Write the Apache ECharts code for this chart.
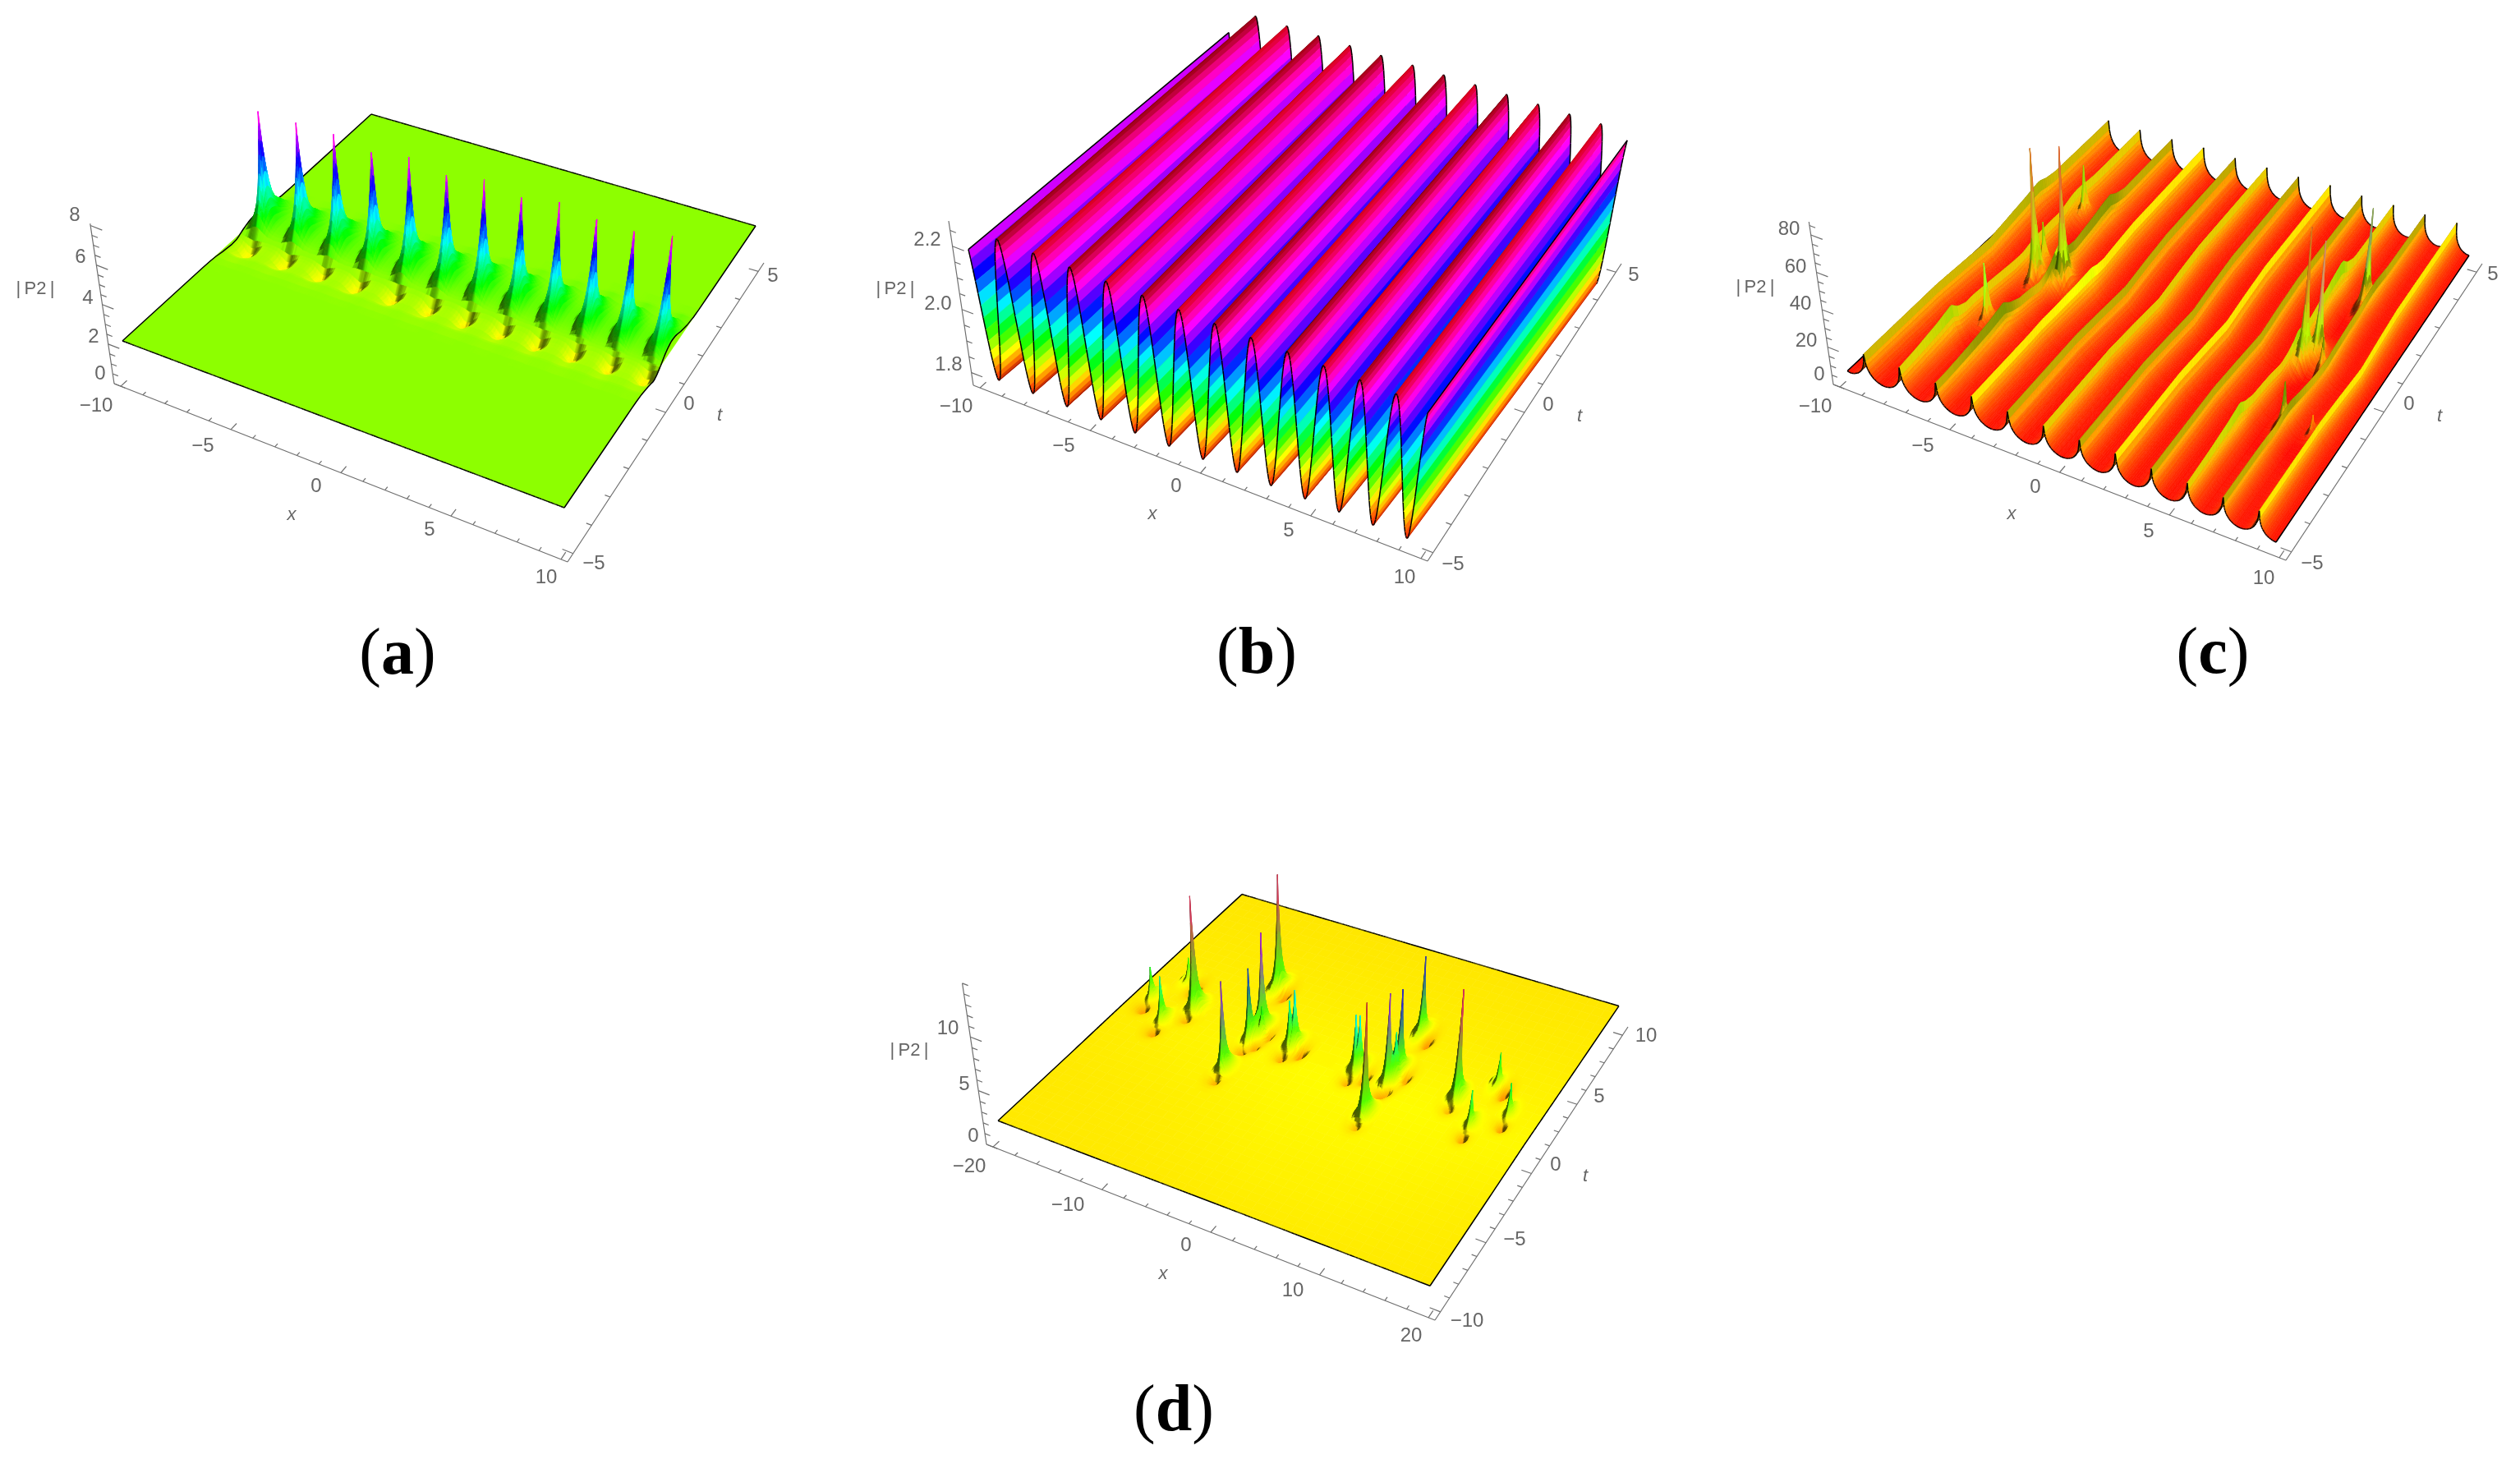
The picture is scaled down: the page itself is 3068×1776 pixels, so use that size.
<!DOCTYPE html>
<html>
<head>
<meta charset="utf-8">
<title>|P2| surfaces</title>
<script src="https://cdn.jsdelivr.net/npm/echarts@6/dist/echarts.min.js"></script>
<style>
  html, body { margin: 0; padding: 0; background: #fff; }
  #chart { width: 3068px; height: 1776px; }
</style>
</head>
<body>
<div id="chart"></div>
<script>
// --- values ---
// panel (a): twelve peaks in a row on a flat plateau
const aPlateau = 2;
const aPeakX = [-9.35, -7.63, -5.91, -4.2, -2.48, -0.76, 0.96, 2.67, 4.39, 6.11, 7.83, 9.55];
const aPeakT = [0.25, 0.28, 0.3, 0.33, 0.35, 0.38, 0.4, 0.43, 0.45, 0.48, 0.5, 0.53];
const aPeakZ = [7.55, 7.57, 7.59, 7.61, 7.63, 7.65, 7.67, 7.69, 7.71, 7.73, 7.75, 7.75];

// panel (b): crests and valleys of the ridges, along x
const bNodeX = [-10.2, -9.42, -8.63, -7.85, -7.06, -6.28, -5.49, -4.71, -3.92, -3.14, -2.35, -1.57, -0.78, 0, 0.78, 1.57, 2.35, 3.14, 3.92, 4.71, 5.49, 6.28, 7.06, 7.85, 8.63, 9.42, 10.1];
const bNodeZ = [2.24, 1.77, 2.24, 1.77, 2.24, 1.77, 2.24, 1.77, 2.24, 1.77, 2.24, 1.77, 2.24, 1.77, 2.24, 1.77, 2.24, 1.77, 2.24, 1.77, 2.24, 1.77, 2.24, 1.77, 2.24, 1.77, 2.24];
const bCrestTone = [0.8, 0.6, 0.85, 0.65, 0.85, 0.65, 0.85, 0.65, 0.85, 0.65, 0.85, 0.65, 0.85, 1];

// panel (c): ridges, then the spikes and humps on them
const cValley = 1;
const cCrestX = [-10.6, -9.1, -7.45, -5.78, -4.12, -2.46, -0.8, 0.86, 2.52, 4.18, 5.84, 7.5, 9.16];
const cCrestZ = [14.5, 14.5, 14.5, 14.5, 15, 14.5, 14.5, 14.5, 15, 14.5, 14.5, 14.5, 15];
const cCrestTone = [0.7, 0.7, 0.85, 0.6, 1, 0.6, 0.85, 0.6, 1, 0.6, 0.85, 0.6, 1];
const cBendT = [-5, -2, -1, 0, 1, 2, 5];
const cBendS = [0, 0, 0.1, 0.22, 0.1, 0, 0];
const cProfileW = [0, 0.03, 0.07, 0.12, 0.2, 0.3, 0.42, 0.55, 0.7, 0.85, 1];
const cProfileF = [1, 0.76, 0.6, 0.47, 0.34, 0.24, 0.15, 0.09, 0.04, 0.01, 0];
const cPeakX = [-6.85, -6.95, -6.75, -5.55, -7.1, 6.15, 6.55, 7.05, 7.2, 8.5, 7.05];
const cPeakT = [-1.9, 0.45, -0.1, 0.04, 2.4, 0.17, 0.54, 2.54, -1.7, -1.6, 0.2];
const cPeakZ = [42, 32, 80, 80, 36, 82, 72, 60, 32, 20, 28];
const cHumpX = [-7.45, -5.78, 5.84, 5.84, -9.1, -5.78, -4.12];
const cHumpT = [-2.8, -2.1, -2.44, 2.5, 2.2, 2.4, 0];
const cHumpH = [6, 5, 5, 7, 2.5, 4, 3];
const cRampT = [-2.5, -1.5, -0.6, 0, 0.25, 0.6];
const cRampF = [0, 0.25, 0.6, 1, 0.4, 0];

// panel (d): scattered peaks over a nearly flat sheet
const dBaseX = [-20, -10, 0, 10, 20];
const dBaseT = [-10, -5, 0, 5, 10];
const dBaseZ = [
  [1.98, 1.98, 2.0, 2.0, 1.98],
  [1.98, 2.02, 2.08, 2.08, 2.02],
  [2.02, 2.1, 2.15, 2.15, 2.12],
  [2.0, 2.02, 2.03, 2.03, 2.02],
  [1.96, 1.96, 1.96, 1.96, 1.96]
];
const dPeakX = [-18.3, -15.8, -16.8, -14.3, -7.8, -7.9, -7.3, -7.8, -9.5, -4.4, -4.1, 2.2, 2.5, 5.7, 5.5, 5.9, 5.7, 5.1, 11.9, 14.6, 14.5, 17.1];
const dPeakT = [1.25, 0, 3.1, 1.5, -1.7, 0.66, 1.24, 1.7, 4.6, 1.1, 1.3, 1, 1.1, -1.5, 0.9, 1.25, 1.9, 4.6, 1.4, 0, 3, 1.4];
const dPeakZ = [4.8, 6, 4.2, 12, 10, 8.5, 4.5, 10.3, 12, 5.5, 6.5, 6.3, 6.3, 12.4, 10, 5.5, 9, 9, 12, 5.3, 5, 5];
const dPeakKind = [0, 0, 1, 0, 0, 0, 0, 1, 1, 0, 1, 0, 1, 0, 0, 0, 1, 1, 0, 0, 1, 0];

// shape of one peak: height fraction against distance from its centre
const spikeR = [0, 0.02, 0.04, 0.08, 0.12, 0.17, 0.25, 0.35, 0.5, 0.7, 1, 1.4, 2];
const spikeF = [1, 0.92, 0.83, 0.7, 0.6, 0.5, 0.37, 0.26, 0.17, 0.1, 0.05, 0.018, 0];
const dipR = [0, 0.2, 0.4, 0.6, 0.85, 1.2, 1.7];
const dipF = [1, 0.85, 0.55, 0.3, 0.14, 0.04, 0];

// axes
const xTicks10 = [-10, -5, 0, 5, 10];
const tTicks5 = [-5, 0, 5];
const xTicks20 = [-20, -10, 0, 10, 20];
const tTicks10 = [-10, -5, 0, 5, 10];
const aZTicks = [0, 2, 4, 6, 8];
const bZTicks = [1.8, 2.0, 2.2];
const cZTicks = [0, 20, 40, 60, 80];
const dZTicks = [0, 5, 10];

// --- helpers ---
function interp(xa, ya, v) {
  if (v <= xa[0]) return ya[0];
  for (let i = 1; i < xa.length; i++) {
    if (v <= xa[i]) return ya[i - 1] + (ya[i] - ya[i - 1]) * (v - xa[i - 1]) / (xa[i] - xa[i - 1]);
  }
  return ya[ya.length - 1];
}

function hueRgb(h) {
  h = ((h % 360) + 360) % 360 / 60;
  const i = Math.floor(h), f = h - i;
  const q = 1 - f;
  return [[1, f, 0], [q, 1, 0], [0, 1, f], [0, q, 1], [f, 0, 1], [1, 0, q]][i];
}

function cssRgb(c, v) {
  return 'rgb(' + Math.round(c[0] * v * 255) + ',' + Math.round(c[1] * v * 255) + ',' + Math.round(c[2] * v * 255) + ')';
}

function project(p, x, t, z) {
  const u = (x - p.x0) / (p.x1 - p.x0), v = (t - p.t0) / (p.t1 - p.t0);
  const c = p.corners;
  const bx = c[0][0] * (1 - u) * (1 - v) + c[1][0] * u * (1 - v) + c[2][0] * u * v + c[3][0] * (1 - u) * v;
  const by = c[0][1] * (1 - u) * (1 - v) + c[1][1] * u * (1 - v) + c[2][1] * u * v + c[3][1] * (1 - u) * v;
  const s = 1 + p.k * (z - p.z0) / (p.z1 - p.z0);
  return [p.vp[0] + (bx - p.vp[0]) * s, p.vp[1] + (by - p.vp[1]) * s];
}

const nodeOffs = [0, 0.015, 0.04, 0.07, 0.11, 0.16, 0.22, 0.3, 0.4, 0.52, 0.68, 0.88, 1.15, 1.5, 2];

function makeNodes(centers, lo, hi, gap, extra) {
  const isCenter = {};
  let a = [lo, hi].concat(extra || []);
  centers.forEach(function (c) {
    isCenter[c.toFixed(3)] = true;
    nodeOffs.forEach(function (o) { a.push(c - o, c + o); });
  });
  a = a.filter(function (v) { return v >= lo && v <= hi; }).sort(function (m, n) { return m - n; });
  const out = [];
  a.forEach(function (v) {
    const last = out[out.length - 1];
    if (last === undefined) { out.push(v); return; }
    if (v === last) return;
    if (isCenter[v.toFixed(3)] || v === hi) {
      if (v - last < gap && !isCenter[last.toFixed(3)] && last !== lo) out.pop();
      out.push(v);
    } else if (v - last >= gap) {
      out.push(v);
    }
  });
  return out;
}

// peaks: returns the height added by all peaks of a panel at (x, t)
function peakField(px, pt, ph, kinds, opt) {
  return function (x, t) {
    let sum = 0;
    for (let i = 0; i < px.length; i++) {
      const u = x - px[i], v = t - pt[i];
      if (Math.abs(u) > 3.2 || Math.abs(v) > 3.2) continue;
      const r = Math.sqrt(u * u / (opt.w * opt.w) + v * v / (opt.w * opt.w * 1.3));
      sum += ph[i] * interp(spikeR, spikeF, r);
      const flip = kinds && kinds[i] === 1;
      const du = flip ? u - 0.85 : u, dv = flip ? v + 0.3 : v + 0.75;
      const rd = Math.sqrt(du * du / (flip ? 0.7 : 0.8) + dv * dv / (flip ? 0.8 : 0.45));
      sum -= opt.dip * interp(dipR, dipF, rd);
      const lu = flip ? u + 0.6 : u, lv = flip ? v - 0.1 : v - 0.55;
      const rl = Math.sqrt(lu * lu / 0.15 + lv * lv / 0.3);
      sum += opt.lobe * interp(dipR, dipF, rl);
    }
    return sum;
  };
}

function cRidge(x, t) {
  let best = 0, bd = 1e9;
  for (let i = 0; i < cCrestX.length; i++) {
    const d = Math.abs(x - cCrestX[i]);
    if (d < bd) { bd = d; best = i; }
  }
  let amp = cCrestZ[best] - cValley;
  for (let i = 0; i < cHumpX.length; i++) {
    if (Math.abs(cHumpX[i] - cCrestX[best]) < 0.5) amp += cHumpH[i] * interp(cRampT, cRampF, t - cHumpT[i]);
  }
  return cValley + amp * interp(cProfileW, cProfileF, Math.min(bd / 0.83, 1));
}

function nearest(arr, v) {
  let best = 0, bd = 1e9;
  for (let i = 0; i < arr.length; i++) {
    const d = Math.abs(v - arr[i]);
    if (d < bd) { bd = d; best = i; }
  }
  return best;
}

function cosInterp(x) {
  if (x <= bNodeX[0]) return bNodeZ[0];
  for (let i = 1; i < bNodeX.length; i++) {
    if (x <= bNodeX[i]) {
      const f = (x - bNodeX[i - 1]) / (bNodeX[i] - bNodeX[i - 1]);
      return bNodeZ[i - 1] + (bNodeZ[i] - bNodeZ[i - 1]) * (1 - Math.cos(Math.PI * f)) / 2;
    }
  }
  return bNodeZ[bNodeZ.length - 1];
}

function dSheet(x, t) {
  const i = Math.min(3, Math.floor((x + 20) / 10)), j = Math.min(3, Math.floor((t + 10) / 5));
  const a = (x - dBaseX[i]) / 10, b = (t - dBaseT[j]) / 5;
  return dBaseZ[j][i] * (1 - a) * (1 - b) + dBaseZ[j][i + 1] * a * (1 - b) + dBaseZ[j + 1][i] * (1 - a) * b + dBaseZ[j + 1][i + 1] * a * b;
}

function range(lo, hi, step) {
  const a = [];
  for (let v = lo; v < hi - step / 2; v += step) a.push(v);
  a.push(hi);
  return a;
}

// --- panels ---
const panels = [
  {
    name: 'a', x0: -10.3, x1: 10.3, t0: -5.3, t1: 5.3, z0: 0, z1: 8.1, k: 0.0744, vp: [532, 3087],
    xmin: -10, xmax: 10, tmin: -5, tmax: 5,
    corners: [[139, 467], [691, 684], [930, 320], [452, 183]],
    surf: [[149, 415, 2], [687, 618, 2], [920, 275, 2], [452, 139, 2]],
    hue: function (z) { return 360 * z / 8.3; },
    base: function () { return aPlateau; },
    extra: peakField(aPeakX, aPeakT, aPeakZ.map(function (z) { return z - aPlateau; }), null, { w: 0.62, dip: 1, lobe: 0.3 }),
    coarse: [[-10, 10], [-5, 5]], steep: 0.7,
    xs: makeNodes(aPeakX, -10, 10, 0.012), ts: makeNodes(aPeakT.slice(0, 1).concat(aPeakT.slice(11)), -5, 5, 0.012, aPeakT),
    xTicks: xTicks10, tTicks: tTicks5, zTicks: aZTicks, xMinor: 1, tMinor: 1, zMinor: 0.5, zDec: 0,
    xLabels: [[117, 494], [247, 543], [385, 592], [523, 645], [665, 703]],
    tLabels: [[723, 686], [839, 492], [941, 336]],
    zLabels: [[122, 455], [114, 410], [107, 363], [98, 313], [91, 262]],
    xTitle: [355, 627], tTitle: [876, 506], zTitle: [43, 352],
    tag: 'a', tagAt: [484, 799]
  },
  {
    name: 'b', x0: -10.3, x1: 10.3, t0: -5.3, t1: 5.3, z0: 1.76, z1: 2.28, k: 0.0764, vp: [1578, 3087],
    xmin: -10, xmax: 10, tmin: -5, tmax: 5,
    corners: [[1185, 469], [1738, 683], [1974, 321], [1498, 185]],
    surf: [[1179, 304, 2.167], [1738, 503, 2.215], [1981, 171, 2.215], [1496, 40, 2.167]],
    hue: function (z) { return 360 * (z - 1.76) / 0.49; },
    base: function (x) { return cosInterp(x); }, steep: 1,
    tone: function (x, z) {
      if (z < 2.2) return 1;
      const c = bCrestTone[nearest(bNodeX.filter(function (_, i) { return i % 2 === 0; }), x)];
      return 1 - (1 - c) * (z - 2.2) / 0.04;
    },
    xs: range(-10, 10, 0.04), ts: [-5, 5],
    xTicks: xTicks10, tTicks: tTicks5, zTicks: bZTicks, xMinor: 1, tMinor: 1, zMinor: 0.05, zDec: 1,
    xLabels: [[1164, 495], [1295, 543], [1432, 592], [1569, 646], [1710, 703]],
    tLabels: [[1769, 687], [1885, 493], [1989, 335]],
    zLabels: [[1155, 444], [1142, 370], [1129, 292]],
    xTitle: [1403, 626], tTitle: [1923, 507], zTitle: [1090, 352],
    tag: 'b', tagAt: [1530, 798]
  },
  {
    name: 'c', x0: -10.3, x1: 10.3, t0: -5.3, t1: 5.3, z0: 0, z1: 87, k: 0.0756, vp: [2625, 3087],
    xmin: -10, xmax: 10, tmin: -5, tmax: 5,
    corners: [[2232, 468], [2783, 682], [3022, 321], [2545, 184]],
    surf: [[2249, 451, 1.7], [2771, 660, 1], [3006, 311, 1], [2547, 173, 1.7]],
    hue: function (z) { return 360 * z / 85; },
    base: cRidge, steep: 0.4,
    warp: function (x, t) { return interp(cBendT, cBendS, t) * Math.min(1, Math.max(0, 10 - Math.abs(x))); },
    extraSum: peakField(cPeakX, cPeakT, cPeakZ.map(function (z) { return z - 10; }), null, { w: 0.35, dip: 1.5, lobe: 0.6 }),
    peaks: { x: cPeakX, t: cPeakT, z: cPeakZ, from: 18, rx: 0.5, rt: 0.7 },
    tone: function (x, z) {
      if (z < 10 || z > 19) return 1;
      const c = cCrestTone[nearest(cCrestX, x)];
      return 1 - (1 - c) * Math.min(1, (z - 10) / 4);
    },
    xs: makeNodes(cPeakX.concat(cCrestX), -10, 10, 0.03, range(-10, 10, 0.08)),
    ts: makeNodes(cPeakT, -5, 5, 0.05, range(-5, 5, 0.25)),
    xTicks: xTicks10, tTicks: tTicks5, zTicks: cZTicks, xMinor: 1, tMinor: 1, zMinor: 5, zDec: 0,
    xLabels: [[2210, 495], [2341, 543], [2478, 593], [2616, 647], [2756, 704]],
    tLabels: [[2815, 686], [2933, 492], [3035, 334]],
    zLabels: [[2215, 456], [2199, 415], [2192, 370], [2186, 325], [2178, 279]],
    xTitle: [2449, 626], tTitle: [2970, 507], zTitle: [2137, 350],
    tag: 'c', tagAt: [2694, 798]
  },
  {
    name: 'd', x0: -20.6, x1: 20.6, t0: -10.6, t1: 10.6, z0: 0, z1: 15, k: 0.0749, vp: [1594, 4011],
    xmin: -20, xmax: 20, tmin: -10, tmax: 10,
    corners: [[1201, 1393], [1747, 1607], [1982, 1250], [1514, 1109]],
    surf: [[1215, 1364, 2], [1741, 1565, 2], [1971, 1224, 2], [1512, 1088, 2]],
    hue: function (z) { return 360 * z / 13; },
    base: dSheet, steep: 0.1,
    extra: peakField(dPeakX, dPeakT, dPeakZ.map(function (z) { return z - 2; }), dPeakKind, { w: 0.6, dip: 0.95, lobe: 0.3 }),
    peaks: { x: dPeakX, t: dPeakT, z: dPeakZ, from: 3.6, rx: 0.9, rt: 1.1 },
    coarse: [range(-20, 20, 1), range(-10, 10, 0.5)],
    xs: makeNodes(dPeakX, -20, 20, 0.025), ts: makeNodes(dPeakT, -10, 10, 0.025),
    xTicks: xTicks20, tTicks: tTicks10, zTicks: dZTicks, xMinor: 2, tMinor: 1, zMinor: 1, zDec: 0,
    xLabels: [[1180, 1420], [1300, 1467], [1444, 1516], [1574, 1571], [1718, 1626]],
    tLabels: [[1786, 1608], [1844, 1509], [1894, 1418], [1947, 1335], [2004, 1261]],
    zLabels: [[1185, 1383], [1174, 1320], [1154, 1252]],
    xTitle: [1416, 1551], tTitle: [1930, 1432], zTitle: [1107, 1279],
    tag: 'd', tagAt: [1429, 1720]
  }
];

// surface frame: the measured corners of each sheet, brought down to the axis floor
panels.forEach(function (p) {
  const base = p.surf.map(function (s) {
    const f = 1 + p.k * (s[2] - p.z0) / (p.z1 - p.z0);
    return [p.vp[0] + (s[0] - p.vp[0]) / f, p.vp[1] + (s[1] - p.vp[1]) / f];
  });
  p.sp = Object.assign({}, p, { x0: p.xmin, x1: p.xmax, t0: p.tmin, t1: p.tmax, corners: base });
});

const L1 = [0.6, 0.25, 0.75];

function shade(p, zx, zt) {
  const zr = p.z1 - p.z0;
  const gx = zx * (p.x1 - p.x0) * 0.4 / zr, gt = zt * (p.t1 - p.t0) * 0.4 / zr;
  const len = Math.sqrt(gx * gx + gt * gt + 1);
  const nz = 1 / len;
  const s1 = Math.max(0, (-gx * L1[0] - gt * L1[1] + L1[2]) / len) / L1[2];
  const st = 1 - nz;
  return Math.min(1, 0.35 + 0.65 * Math.min(1, s1 / 0.35) + p.steep * st * st * st);
}

// tall thin spikes keep the colour of their tip blended down to their foot
function quadColor(p, xm, tm, zm, v) {
  const k = p.peaks;
  if (k && zm > k.from) {
    let best = -1, br = 1;
    for (let i = 0; i < k.x.length; i++) {
      const du = (xm - k.x[i]) / k.rx, dv = (tm - k.t[i]) / k.rt;
      const r = du * du + dv * dv;
      if (r < br) { br = r; best = i; }
    }
    if (best >= 0 && k.z[best] > k.from) {
      const f = Math.min(1, (zm - k.from) / (k.z[best] - k.from));
      const a = hueRgb(p.hue(k.from)), b = hueRgb(p.hue(k.z[best]));
      return cssRgb([a[0] + (b[0] - a[0]) * f, a[1] + (b[1] - a[1]) * f, a[2] + (b[2] - a[2]) * f], v);
    }
  }
  return cssRgb(hueRgb(p.hue(zm)), v);
}

function meshStrips(p, xs, ts, zf, skip, withEdges, flat) {
  const nx = xs.length, nt = ts.length;
  const Z = new Float32Array(nx * nt), E = skip ? new Float32Array(nx * nt) : null;
  for (let i = 0; i < nx; i++) {
    for (let j = 0; j < nt; j++) {
      Z[i * nt + j] = zf(xs[i], ts[j]);
      if (skip) E[i * nt + j] = skip(xs[i], ts[j]);
    }
  }
  const zAt = function (i, j) { return Z[i * nt + j] + (skip ? E[i * nt + j] : 0); };
  const pt = function (i, j) {
    const w = p.warp ? p.warp(xs[i], ts[j]) : 0;
    return project(p.sp, xs[i] + w, ts[j], zAt(i, j));
  };
  const strips = [];
  for (let i = 0; i < nx - 1; i++) {
    const items = [];
    for (let j = nt - 2; j >= 0; j--) {
      if (skip) {
        const a = E[i * nt + j], b = E[i * nt + j + 1], c = E[(i + 1) * nt + j], d = E[(i + 1) * nt + j + 1];
        if (Math.abs(a) < 0.02 && Math.abs(b) < 0.02 && Math.abs(c) < 0.02 && Math.abs(d) < 0.02) continue;
      }
      const z00 = zAt(i, j), z01 = zAt(i, j + 1), z10 = zAt(i + 1, j), z11 = zAt(i + 1, j + 1);
      const dx = xs[i + 1] - xs[i], dt = ts[j + 1] - ts[j];
      const zm = (z00 + z01 + z10 + z11) / 4;
      const xm = (xs[i] + xs[i + 1]) / 2, tm = (ts[j] + ts[j + 1]) / 2;
      let v = flat ? 1 : shade(p, (z10 + z11 - z00 - z01) / (2 * dx), (z01 + z11 - z00 - z10) / (2 * dt));
      if (p.tone) v *= p.tone(xm, zm);
      items.push({
        pts: [pt(i, j), pt(i + 1, j), pt(i + 1, j + 1), pt(i, j + 1)],
        fill: quadColor(p, xm, tm, zm, v)
      });
    }
    if (withEdges) {
      items.push({ line: [pt(i, nt - 1), pt(i + 1, nt - 1)] });
      items.push({ line: [pt(i, 0), pt(i + 1, 0)] });
      if (i === 0 || i === nx - 2) {
        const e = i === 0 ? 0 : nx - 1;
        const line = [];
        for (let j = 0; j < nt; j++) line.push(pt(e, j));
        items.push({ line: line });
      }
    }
    strips.push(items);
  }
  return strips;
}

function surfaceSeries(p) {
  let strips = [];
  if (p.coarse) {
    strips = strips.concat(meshStrips(p, p.coarse[0], p.coarse[1], p.base, null, false, true));
    strips = strips.concat(meshStrips(p, p.xs, p.ts, p.base, p.extra, true, false));
  } else if (p.extraSum) {
    const f = function (x, t) { return Math.max(0.5, p.base(x, t) + p.extraSum(x, t)); };
    strips = meshStrips(p, p.xs, p.ts, f, null, true, false);
  } else {
    strips = meshStrips(p, p.xs, p.ts, p.base, null, true, false);
  }
  return {
    type: 'custom',
    coordinateSystem: 'cartesian2d',
    silent: true,
    animation: false,
    progressive: 0,
    clip: false,
    data: strips.map(function (_, i) { return [i]; }),
    renderItem: function (params, api) {
      const items = strips[params.dataIndex];
      return {
        type: 'group',
        children: items.map(function (q) {
          if (q.line) {
            return { type: 'polyline', shape: { points: q.line.map(function (c) { return api.coord(c); }) }, style: { stroke: '#000', lineWidth: 1.5, fill: null } };
          }
          return {
            type: 'polygon',
            shape: { points: q.pts.map(function (c) { return api.coord(c); }) },
            style: { fill: q.fill, stroke: q.fill, lineWidth: 0.6 }
          };
        })
      };
    }
  };
}

function tickText(v, dec) {
  const s = Math.abs(v).toFixed(dec);
  return v < 0 ? '\u2212' + s : s;
}

function axisSeries(p) {
  const segs = [], texts = [];
  const bx = p.x0, bt = p.t0, bz = p.z0;
  const tx = p.x1;
  segs.push([project(p, p.x0, bt, bz), project(p, p.x1, bt, bz)]);
  segs.push([project(p, tx, p.t0, bz), project(p, tx, p.t1, bz)]);
  segs.push([project(p, bx, bt, p.z0), project(p, bx, bt, p.z1)]);
  const xr = p.x1 - p.x0, tr = p.t1 - p.t0;
  const isMajor = function (list, v) { return list.some(function (m) { return Math.abs(m - v) < 1e-6; }); };
  for (let v = p.xmin; v <= p.xmax + 1e-6; v += p.xMinor) {
    const len = isMajor(p.xTicks, v) ? 0.024 : 0.012;
    segs.push([project(p, v, bt, bz), project(p, v, bt + len * tr, bz)]);
  }
  for (let v = p.tmin; v <= p.tmax + 1e-6; v += p.tMinor) {
    const len = isMajor(p.tTicks, v) ? 0.024 : 0.012;
    segs.push([project(p, tx, v, bz), project(p, tx - len * xr, v, bz)]);
  }
  const zlo = Math.ceil(p.z0 / p.zMinor - 1e-6) * p.zMinor;
  for (let v = zlo; v <= p.z1 + 1e-6; v += p.zMinor) {
    const len = isMajor(p.zTicks, v) ? 0.024 : 0.012;
    segs.push([project(p, bx, bt, v), project(p, bx + len * xr, bt, v)]);
  }
  const font = '24px "Liberation Sans"';
  p.xTicks.forEach(function (v, i) { texts.push({ at: p.xLabels[i], text: tickText(v, 0), font: font }); });
  p.tTicks.forEach(function (v, i) { texts.push({ at: p.tLabels[i], text: tickText(v, 0), font: font }); });
  p.zTicks.forEach(function (v, i) { texts.push({ at: p.zLabels[i], text: tickText(v, p.zDec), font: font }); });
  texts.push({ at: p.xTitle, text: 'x', font: 'italic 22px "Liberation Sans"' });
  texts.push({ at: p.tTitle, text: 't', font: 'italic 22px "Liberation Sans"' });
  texts.push({ at: p.zTitle, text: '|\u2009P2\u2009|', font: '22px "Liberation Sans"' });
  return {
    type: 'custom',
    coordinateSystem: 'cartesian2d',
    silent: true,
    animation: false,
    clip: false,
    data: [[0]],
    renderItem: function (params, api) {
      const children = segs.map(function (s) {
        return { type: 'polyline', shape: { points: s.map(function (c) { return api.coord(c); }) }, style: { stroke: '#6e6e6e', lineWidth: 1.2, fill: null } };
      });
      texts.forEach(function (t) {
        const c = api.coord(t.at);
        children.push({ type: 'text', style: { x: c[0], y: c[1], text: t.text, font: t.font, fill: '#666', textAlign: 'center', textVerticalAlign: 'middle' } });
      });
      const tagPos = api.coord(p.tagAt);
      children.push({
        type: 'text',
        style: {
          x: tagPos[0], y: tagPos[1], text: '{p|(}{b|' + p.tag + '}{p|)}',
          textAlign: 'center', textVerticalAlign: 'middle',
          rich: {
            p: { font: '80px "Liberation Serif"', fill: '#000' },
            b: { font: 'bold 80px "Liberation Serif"', fill: '#000' }
          }
        }
      });
      return { type: 'group', children: children };
    }
  };
}

const chart = echarts.init(document.getElementById('chart'), null, { renderer: 'canvas' });
const series = [];
panels.forEach(function (p) {
  series.push(axisSeries(p));
  series.push(surfaceSeries(p));
});
chart.setOption({
  animation: false,
  backgroundColor: '#fff',
  tooltip: { show: false },
  grid: { left: 0, right: 0, top: 0, bottom: 0 },
  xAxis: { type: 'value', min: 0, max: 3068, show: false },
  yAxis: { type: 'value', min: 0, max: 1776, inverse: true, show: false },
  series: series
});
</script>
</body>
</html>
